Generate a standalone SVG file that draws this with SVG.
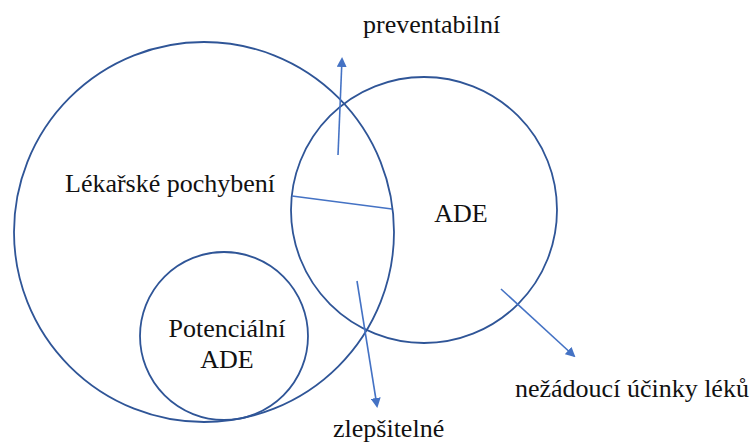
<svg xmlns="http://www.w3.org/2000/svg" width="750" height="443" viewBox="0 0 750 443">
<style>
.c{fill:none;stroke:#2f5597;stroke-width:1.8}
.a{fill:none;stroke:#4472c4;stroke-width:1.6}
text{font-family:"Liberation Serif",serif !important;font-size:26px;fill:#111}
</style>
<defs>
<marker id="ah" markerWidth="10" markerHeight="10" refX="8" refY="5" orient="auto" markerUnits="userSpaceOnUse" viewBox="0 0 10 10">
<path d="M0,0 L10,5 L0,10 Z" fill="#4472c4"/>
</marker>
</defs>
<rect width="750" height="443" fill="#fff"/>
<g id="lekarske">
<circle class="c" cx="204" cy="232" r="190"/>
<text x="65" y="192" style="font-family:'Liberation Serif',serif">Lékařské pochybení</text>
</g>
<g id="potencialni">
<circle class="c" cx="224" cy="336" r="84"/>
<text x="227" y="337" text-anchor="middle" style="font-family:'Liberation Serif',serif">Potenciální</text>
<text x="227" y="368" text-anchor="middle" style="font-family:'Liberation Serif',serif">ADE</text>
</g>
<g id="ade">
<circle class="c" cx="424" cy="210" r="133"/>
<text x="461" y="222" text-anchor="middle" style="font-family:'Liberation Serif',serif">ADE</text>
</g>
<g id="connectors">
<line class="a" x1="338" y1="155" x2="342" y2="59" marker-end="url(#ah)"/>
<line class="a" x1="292" y1="196" x2="392" y2="209"/>
<line class="a" x1="357" y1="281" x2="377" y2="406" marker-end="url(#ah)"/>
<line class="a" x1="501" y1="289" x2="574" y2="356" marker-end="url(#ah)"/>
</g>
<g id="labels">
<text x="363" y="33" style="font-family:'Liberation Serif',serif">preventabilní</text>
<text x="333" y="437" style="font-family:'Liberation Serif',serif">zlepšitelné</text>
<text x="515" y="397" style="font-family:'Liberation Serif',serif">nežádoucí účinky léků</text>
</g>
</svg>
